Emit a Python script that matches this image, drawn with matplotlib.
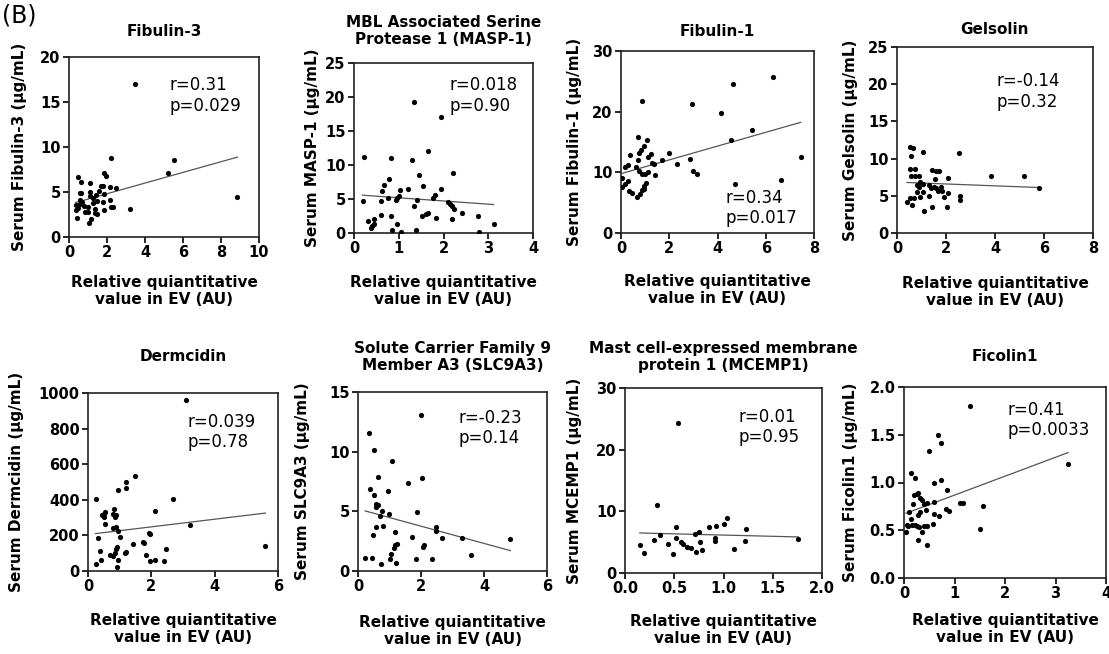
import numpy as np
import matplotlib
matplotlib.use("Agg")
import matplotlib.pyplot as plt

W, H = 1109, 654

# ---- data (x = relative EV value, y = serum level) ----
fib3_x = [3.46, 2.23, 5.5, 5.2, 8.86, 3.19, 1.84, 1.96, 0.49, 0.61, 1.12, 1.7, 1.79,
          2.18, 2.46, 1.58, 1.44, 0.56, 0.65, 1.09, 1.84, 1.09, 1.26, 2.14, 1.79, 1.47,
          1.26, 0.56, 0.7, 0.56, 0.39, 0.47, 0.77, 2.19, 2.32, 1.0, 0.35, 0.82, 1.0,
          1.35, 1.82, 1.49, 1.35, 0.44, 1.18, 1.05]
fib3_y = [17.0, 8.75, 8.5, 7.15, 4.4, 3.1, 7.15, 6.8, 6.7, 6.15, 6.05, 5.7, 5.7,
          5.6, 5.4, 5.15, 4.7, 4.85, 4.85, 4.95, 4.75, 4.5, 4.35, 4.1, 3.85, 3.95,
          3.75, 4.15, 3.85, 3.7, 3.6, 3.2, 3.4, 3.3, 3.3, 3.3, 2.95, 2.75, 2.75,
          3.1, 2.95, 2.5, 2.65, 2.1, 2.0, 1.5]

masp1_x = [1.34, 1.94, 0.22, 0.82, 1.66, 1.30, 0.78, 1.45, 2.22, 0.67, 0.63, 1.02,
           1.21, 1.54, 1.95, 1.82, 0.77, 0.97, 1.0, 0.19, 0.6, 0.94, 1.41, 1.76, 2.1,
           2.15, 2.19, 2.23, 1.35, 2.41, 1.65, 1.6, 1.53, 0.6, 0.83, 1.84, 2.18, 2.77,
           0.45, 0.31, 0.95, 3.12, 0.45, 0.41, 0.37, 0.84, 1.04, 1.39, 2.79]
masp1_y = [19.2, 17.1, 11.2, 11.1, 12.1, 10.8, 7.9, 8.6, 8.85, 7.1, 6.2, 6.3,
           6.4, 6.9, 6.4, 5.65, 5.2, 5.2, 5.4, 4.7, 4.7, 4.8, 4.8, 5.1, 4.6,
           4.3, 4.0, 3.5, 4.0, 3.0, 3.0, 2.85, 2.5, 2.6, 2.45, 2.25, 2.0, 2.45,
           2.05, 1.7, 1.3, 1.3, 1.3, 1.0, 0.8, 0.4, 0.2, 0.5, 0.2]

fib1_x = [6.3, 4.65, 0.86, 2.95, 4.14, 5.41, 0.69, 1.06, 4.58, 7.45, 6.62, 4.74,
          2.84, 2.34, 3.0, 3.17, 1.99, 1.69, 1.37, 1.23, 0.97, 0.82, 0.76, 0.69,
          0.39, 0.17, 0.30, 0.62, 0.76, 0.86, 0.99, 1.13, 1.4, 1.27, 1.1, 0.06,
          0.30, 0.17, 0.06, 0.33, 0.47, 0.65, 0.77, 0.94, 0.97, 1.02, 0.88]
fib1_y = [25.7, 24.6, 21.8, 21.3, 19.7, 17.0, 15.9, 15.3, 15.3, 12.5, 8.8, 8.1,
          12.25, 11.3, 10.2, 9.8, 13.2, 12.0, 11.3, 13.0, 14.4, 13.6, 13.2, 12.0,
          12.9, 10.9, 11.2, 10.8, 10.3, 9.8, 9.8, 10.0, 9.5, 11.5, 12.5, 9.1,
          8.5, 8.0, 7.6, 6.9, 6.6, 5.9, 6.5, 7.8, 7.3, 8.2, 7.1]

gel_x = [2.55, 1.06, 0.54, 0.65, 0.58, 3.82, 5.18, 5.78, 0.52, 0.75, 1.42, 1.6, 1.71,
         0.57, 0.73, 0.9, 2.1, 1.55, 0.95, 1.08, 0.81, 0.9, 1.29, 1.49, 1.38, 1.6,
         1.79, 1.69, 1.83, 0.81, 1.08, 2.1, 1.32, 1.93, 0.95, 2.58, 2.58, 0.54, 0.68,
         0.41, 0.61, 1.44, 2.03, 1.11]
gel_y = [10.8, 10.9, 11.6, 11.4, 10.4, 7.7, 7.7, 6.1, 8.6, 8.6, 8.5, 8.4, 8.3,
         7.6, 7.6, 7.6, 7.4, 7.3, 6.9, 6.6, 6.5, 6.25, 6.5, 6.25, 6.0, 6.0,
         6.25, 5.6, 5.7, 5.45, 5.45, 5.35, 5.0, 4.8, 4.8, 5.0, 4.45, 4.7, 4.7,
         4.1, 3.8, 3.55, 3.55, 3.0]

derm_x = [3.08, 1.47, 1.21, 1.19, 0.96, 2.68, 0.26, 2.12, 3.23, 5.6, 0.51, 0.43, 0.49,
          0.55, 0.81, 0.79, 0.89, 0.84, 0.54, 0.79, 0.89, 0.96, 1.01, 0.31, 1.93, 1.97,
          1.74, 1.77, 1.42, 0.37, 0.68, 0.84, 0.92, 0.87, 1.16, 1.19, 0.79, 1.84, 2.47,
          0.42, 1.96, 2.12, 2.4, 0.24, 0.95, 0.93]
derm_y = [959, 534, 500, 468, 457, 406, 403, 339, 260, 140, 322, 313, 303,
          331, 350, 322, 313, 303, 262, 242, 249, 225, 191, 185, 212, 206,
          161, 157, 150, 110, 88, 101, 135, 122, 103, 107, 82, 88, 124,
          64, 56, 60, 54, 39, 60, 22]

slc_x = [2.0, 0.34, 0.52, 1.08, 0.62, 2.03, 1.58, 0.39, 0.94, 0.52, 0.56, 0.62, 0.58,
         0.75, 0.97, 1.88, 0.71, 0.78, 0.56, 2.47, 2.48, 1.17, 0.47, 1.72, 2.66, 3.3,
         4.84, 1.24, 1.19, 1.13, 2.1, 2.06, 1.05, 3.6, 0.23, 0.45, 1.0, 1.83, 2.36,
         1.22, 0.73]
slc_y = [13.1, 11.55, 10.15, 9.25, 7.9, 7.8, 7.35, 6.9, 6.7, 6.4, 5.65, 5.5, 5.35,
         5.0, 4.8, 4.95, 4.6, 3.75, 3.65, 3.7, 3.35, 3.3, 3.0, 2.85, 2.75, 2.75,
         2.7, 2.3, 2.15, 1.95, 2.2, 2.05, 1.45, 1.3, 1.1, 1.05, 0.98, 0.98, 0.98,
         0.7, 0.55]

mcemp_x = [0.54, 0.32, 1.04, 1.01, 0.92, 0.85, 0.52, 1.23, 0.75, 0.71, 0.36, 0.29,
           0.52, 0.91, 0.91, 1.76, 1.22, 0.57, 0.59, 0.76, 0.44, 0.15, 0.63, 0.67,
           1.11, 0.78, 0.72, 0.19, 0.49]
mcemp_y = [24.3, 11.0, 9.0, 7.95, 7.7, 7.45, 7.45, 7.2, 6.65, 6.3, 6.1, 5.4,
           5.6, 5.6, 5.25, 5.5, 5.2, 5.0, 4.75, 5.0, 4.75, 4.6, 4.15, 4.05,
           3.85, 3.7, 3.4, 3.25, 3.1]

fic_x = [1.30, 0.68, 0.73, 0.50, 3.25, 0.13, 0.22, 0.73, 0.59, 0.86, 0.26, 0.2, 0.28,
         0.32, 0.35, 0.45, 0.59, 1.1, 1.16, 1.56, 0.18, 0.4, 0.83, 0.9, 0.1, 0.44,
         0.27, 0.32, 0.59, 0.69, 0.13, 0.05, 0.15, 0.22, 0.25, 0.57, 0.3, 0.4, 0.46,
         0.07, 0.04, 0.36, 1.5, 0.28, 0.45]
fic_y = [1.80, 1.50, 1.41, 1.33, 1.19, 1.10, 1.05, 1.03, 1.00, 0.92, 0.88, 0.87, 0.89,
         0.84, 0.82, 0.79, 0.80, 0.79, 0.79, 0.75, 0.78, 0.77, 0.72, 0.70, 0.69, 0.71,
         0.66, 0.69, 0.67, 0.65, 0.62, 0.56, 0.56, 0.56, 0.54, 0.57, 0.53, 0.54, 0.54,
         0.54, 0.48, 0.48, 0.51, 0.40, 0.35]

titles = ["Fibulin-3", "MBL Associated Serine\nProtease 1 (MASP-1)", "Fibulin-1", "Gelsolin",
          "Dermcidin", "Solute Carrier Family 9\nMember A3 (SLC9A3)",
          "Mast cell-expressed membrane\nprotein 1 (MCEMP1)", "Ficolin1"]
ylabels = ["Serum Fibulin-3 (μg/mL)", "Serum MASP-1 (μg/mL)", "Serum Fibulin-1 (μg/mL)",
           "Serum Gelsolin (μg/mL)", "Serum Dermcidin (μg/mL)", "Serum SLC9A3 (μg/mL)",
           "Serum MCEMP1 (μg/mL)", "Serum Ficolin1 (μg/mL)"]
r_text = ["r=0.31", "r=0.018", "r=0.34", "r=-0.14", "r=0.039", "r=-0.23", "r=0.01", "r=0.41"]
p_text = ["p=0.029", "p=0.90", "p=0.017", "p=0.32", "p=0.78", "p=0.14", "p=0.95", "p=0.0033"]

# fitted line (intercept, slope) as drawn in the reference
fit_intercept = [3.62, 5.65, 9.78, 6.84, 205, 5.2, 6.55, 0.67]
fit_slope = [0.593, -0.47, 1.136, -0.125, 21.5, -0.722, -0.4, 0.198]

xmax = [10, 4, 8, 8, 6, 6, 2, 4]
xstep = [2, 1, 2, 2, 2, 2, 0.5, 1]
ymax = [20, 25, 30, 25, 1000, 15, 30, 2.0]
ystep = [5, 5, 10, 5, 200, 5, 10, 0.5]
xfmt = ["{:.0f}"] * 6 + ["{:.1f}", "{:.0f}"]
yfmt = ["{:.0f}"] * 7 + ["{:.1f}"]

series = [(fib3_x, fib3_y), (masp1_x, masp1_y), (fib1_x, fib1_y), (gel_x, gel_y),
          (derm_x, derm_y), (slc_x, slc_y), (mcemp_x, mcemp_y), (fic_x, fic_y)]

# ---- layout in pixels (left, top, right, bottom) and text placement ----
boxes = [(69, 57, 259, 237), (354, 63, 533, 233), (621, 51, 814, 233), (897, 47, 1093, 233),
         (88, 393, 278, 571), (358, 392, 547, 571), (625, 388, 822, 573), (904, 387, 1106, 578)]
title_y = [32, 31, 32, 30, 357, 357, 357, 357]
xlab_y = [291, 291, 290, 292, 629, 631, 630, 629]
ylab_x = [20, 312, 575, 850, 17, 303, 575, 850]
ann_pos = [(0.53, 0.786), (0.536, 0.809), (0.539, 0.137), (0.51, 0.761),
           (0.526, 0.781), (0.534, 0.799), (0.574, 0.789), (0.51, 0.825)]

fig = plt.figure(figsize=(W / 100, H / 100), dpi=100)

for i, (xs, ys) in enumerate(series):
    l, t, r, b = boxes[i]
    ax = fig.add_axes([l / W, 1 - b / H, (r - l) / W, (b - t) / H])
    ax.scatter(xs, ys, s=14, color='black', zorder=3, linewidths=0)
    xl = np.array([min(xs), max(xs)])
    ax.plot(xl, fit_intercept[i] + fit_slope[i] * xl, color='#555555', lw=0.9, zorder=2)

    ax.set_xlim(0, xmax[i])
    ax.set_ylim(0, ymax[i])
    xt = np.arange(0, xmax[i] + xstep[i] / 2, xstep[i])
    yt = np.arange(0, ymax[i] + ystep[i] / 2, ystep[i])
    ax.set_xticks(xt)
    ax.set_xticklabels([xfmt[i].format(v) for v in xt])
    ax.set_yticks(yt)
    ax.set_yticklabels([yfmt[i].format(v) for v in yt])
    ax.tick_params(direction='out', length=4, width=1.2, labelsize=10.5, pad=2)
    for lab in ax.get_xticklabels() + ax.get_yticklabels():
        lab.set_fontweight('bold')
    for sp in ax.spines.values():
        sp.set_linewidth(1.2)
        sp.set_color('#222222')

    ax.text(ann_pos[i][0], ann_pos[i][1], r_text[i] + "\n" + p_text[i],
            transform=ax.transAxes, ha='left', va='center', fontsize=12, linespacing=1.15)

    cx = (l + r) / 2
    fig.text(cx / W, 1 - title_y[i] / H, titles[i], ha='center', va='center',
             fontsize=11, fontweight='bold', linespacing=1.15)
    fig.text(cx / W, 1 - xlab_y[i] / H, "Relative quiantitative\nvalue in EV (AU)",
             ha='center', va='center', fontsize=11, fontweight='bold', linespacing=1.2)
    fig.text(ylab_x[i] / W, 1 - ((t + b) / 2) / H, ylabels[i], rotation=90,
             ha='center', va='center', fontsize=11, fontweight='bold')

fig.text(2 / W, 1 - 3 / H, "(B)", ha='left', va='top', fontsize=17)

fig.savefig("out.png", dpi=100)
